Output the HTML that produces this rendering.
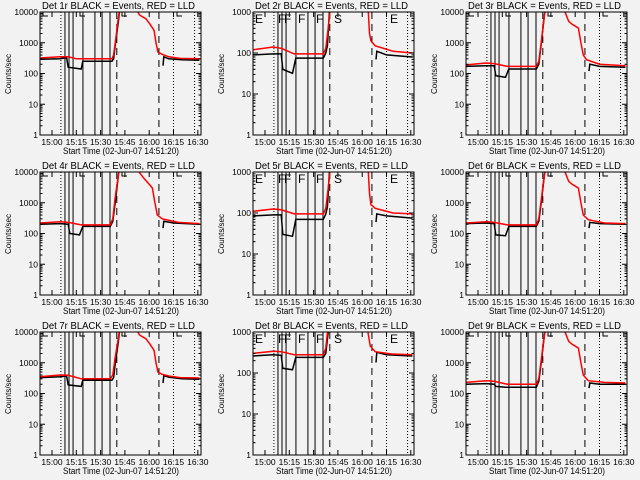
<!DOCTYPE html>
<html><head><meta charset="utf-8"><style>
html,body{margin:0;padding:0;background:#f2f2f2;}
svg{display:block;}
text{font-family:"Liberation Sans",sans-serif;fill:#000;}
</style></head><body>
<svg id="chart" width="640" height="480" viewBox="0 0 640 480" xmlns="http://www.w3.org/2000/svg">
<rect x="0" y="0" width="640" height="480" fill="#f2f2f2"/>
</svg>
<script>
// time in minutes after 15:00, values in counts/sec
const tickLabels = ["15:00","15:15","15:30","15:45","16:00","16:15","16:30"];
const tickMinutes = [0,15,30,45,60,75,90];
const solidLines = [8,10.5,13,19.1,26.5,30.9,35.8];
const dashedLines = [40,66];
const dottedLines = [5.5,75,88];
const panelTitles = ["Det 1r","Det 2r","Det 3r","Det 4r","Det 5r","Det 6r","Det 7r","Det 8r","Det 9r"];
const panelYMax = [10000,1000,10000,10000,1000,10000,10000,1000,10000];

const red1 = [[-7.4,320],[5,350],[10,350],[15,300],[37,300],[38,400],[39.5,1500],[40.7,5000],[42,15000],[52,15000],[53,10000],[54,8000],[58,6000],[60.5,4000],[63,2500],[64.2,1000],[65.4,500],[68,420],[72,350],[79,310],[91,300]];
const black1 = [[-7.4,290],[5,300],[9,330],[10,160],[18,140],[19,250],[37,250],[38,300],[39,800],[41,5000],[42,15000],[63,15000]];
const black1b = [[68.5,180],[69,350],[72,300],[80,280],[91,270]];

const red2 = [[-7.4,120],[5,140],[10,130],[18,95],[36,95],[37.5,130],[39,400],[40.5,1500],[63.5,1500],[64.5,300],[65.4,200],[68,150],[79,110],[91,100]];
const black2 = [[-7.4,90],[5,95],[10,95],[11,40],[17,32],[19,75],[36,75],[37.5,100],[38.5,150],[40,1500],[63,1500]];
const black2b = [[68.5,70],[69,110],[75,90],[91,80]];

const red3 = [[-7.4,190],[5,220],[10,210],[18,170],[36,170],[37.5,250],[39,1000],[41,8000],[42,15000],[52,15000],[53.7,10000],[56,5000],[58,4000],[62,3000],[63.5,1000],[65,400],[67,280],[75,200],[91,180]];
const black3 = [[-7.4,170],[5,180],[10,180],[11,85],[17,75],[19,140],[36,140],[37.5,200],[39,900],[41,8000],[42,15000],[63,15000]];
const black3b = [[68.5,120],[69,200],[75,170],[91,160]];

const red4 = [[-7.4,220],[5,240],[10,230],[18,190],[36,190],[37.5,300],[39,1500],[41,8000],[42,15000],[52,15000],[53.7,10000],[57,6000],[60,4000],[62,3000],[63.5,1000],[65,400],[68,300],[78,230],[91,210]];
const black4 = [[-7.4,200],[5,210],[10,200],[11,100],[17,90],[19,170],[36,170],[37.5,250],[39,1000],[41,8000],[42,15000],[63,15000]];
const black4b = [[68.5,150],[69,250],[75,220],[91,200]];

const red5 = [[-7.4,110],[5,125],[10,120],[18,95],[36,95],[37.5,130],[39,400],[40.5,1500],[63.5,1500],[64.5,300],[65.4,160],[68,130],[79,100],[91,95]];
const black5 = [[-7.4,85],[5,90],[10,90],[11,30],[17,27],[19,70],[36,70],[37.5,95],[38.5,140],[40,1500],[63,1500]];
const black5b = [[68.5,60],[69,95],[75,85],[91,75]];

const red6 = [[-7.4,220],[5,240],[10,230],[18,190],[36,190],[37.5,300],[39,1200],[41,8000],[42,15000],[52,15000],[53.7,10000],[56,5000],[58,4000],[62,3000],[63.5,1000],[65,400],[68,280],[78,220],[91,210]];
const black6 = [[-7.4,210],[5,220],[10,210],[11,90],[17,85],[19,170],[36,170],[37.5,250],[39,1000],[41,8000],[42,15000],[63,15000]];
const black6b = [[68.5,150],[69,230],[75,210],[91,200]];

const red7 = [[-7.4,350],[5,400],[10,390],[18,300],[36,300],[37.5,400],[39,1500],[40.7,5000],[42,15000],[52,15000],[53,10000],[54,8000],[58,6000],[60.5,4000],[63,2500],[64.2,1000],[65.4,500],[68,420],[72,370],[79,330],[91,320]];
const black7 = [[-7.4,330],[5,350],[9,370],[10,190],[18,170],[19,270],[37,270],[38,330],[39,900],[41,5000],[42,15000],[63,15000]];
const black7b = [[68.5,220],[69,380],[72,340],[80,300],[91,290]];

const red8 = [[-7.4,300],[5,340],[10,330],[18,280],[36,280],[37.5,400],[39,1500],[41,8000],[42,15000],[52,15000],[53.7,10000],[57,6000],[60,4000],[62,3000],[63.5,1000],[65,450],[68,330],[78,290],[91,280]];
const black8 = [[-7.4,260],[5,280],[10,270],[11,130],[17,120],[19,240],[36,240],[37.5,300],[39,1000],[41,8000],[42,15000],[63,15000]];
const black8b = [[68.5,180],[69,320],[75,280],[91,260]];

const red9 = [[-7.4,230],[5,260],[10,250],[18,200],[36,200],[37.5,300],[39,1200],[41,8000],[42,15000],[52,15000],[53.7,10000],[56,5000],[58,4000],[62,3000],[63.5,1000],[65,400],[68,260],[78,230],[91,220]];
const black9 = [[-7.4,200],[5,210],[10,200],[11,170],[17,160],[19,160],[36,160],[37.5,250],[39,1000],[41,8000],[42,15000],[63,15000]];
const black9b = [[68.5,150],[69,220],[75,200],[91,200]];

const redSeries = [red1,red2,red3,red4,red5,red6,red7,red8,red9];
const blackSeries = [black1,black2,black3,black4,black5,black6,black7,black8,black9];
const blackAfter = [black1b,black2b,black3b,black4b,black5b,black6b,black7b,black8b,black9b];

const NS = "http://www.w3.org/2000/svg";
const svg = document.getElementById("chart");
function mk(tag, attrs, parent){
  const e = document.createElementNS(NS, tag);
  for (const k in attrs) e.setAttribute(k, attrs[k]);
  parent.appendChild(e);
  return e;
}
const PL=40, PR=201, PT=12, PB=135;

for (let p=0; p<9; p++){
  const ox = (p%3)*213, oy = Math.floor(p/3)*160;
  const g = mk("g", {transform:"translate("+ox+","+oy+")"}, svg);
  
  
  const ymax = panelYMax[p];
  const dec = Math.log10(ymax);
  const xS = t => 52 + t*24.3/15;
  const yS = v => PB - (Math.log10(Math.max(v,1))/dec)*(PB-PT);
  const cid = "clip"+p;
  const cp = mk("clipPath", {id:cid}, g);
  mk("rect", {x:PL, y:PT, width:PR-PL, height:PB-PT}, cp);

  solidLines.forEach(t=>{
    const l = mk("line", {x1:xS(t), x2:xS(t), y1:PT, y2:PB, stroke:"#000", "stroke-width":1}, g);
    
    
  });
  dashedLines.forEach(t=>{
    const l = mk("line", {x1:xS(t), x2:xS(t), y1:PT, y2:PB, stroke:"#000", "stroke-width":1, "stroke-dasharray":"7,5"}, g);
    
    
  });
  dottedLines.forEach(t=>{
    const l = mk("line", {x1:xS(t), x2:xS(t), y1:PT, y2:PB, stroke:"#000", "stroke-width":1, "stroke-dasharray":"1,2"}, g);
    
    
  });

  function draw(arr, color, name){
    let d = "";
    arr.forEach((pt,i)=>{ d += (i?"L":"M") + xS(pt[0]).toFixed(1) + "," + yS(pt[1]).toFixed(1); });
    const path = mk("path", {d:d, fill:"none", stroke:color, "stroke-width":1.5, "clip-path":"url(#"+cid+")"}, g);
    
    
  }
  draw(blackSeries[p], "#000", "events-series");
  draw(blackAfter[p], "#000", "events-series-after");
  draw(redSeries[p], "#f00", "lld-series");

  if (ymax === 1000){
    const letters = [["E",42],["F",65],["F",71],["F",85],["F",103],["S",121],["E",177]];
    letters.forEach(L=>{
      const t = mk("text", {x:L[1], y:PT+11, "font-size":12}, g);
      t.textContent = L[0];
      
      
    });
  } else {
    [[43,17],[80,12],[122,12],[177,17]].forEach(m=>{
      const pth = mk("path", {d:"M"+m[0]+","+PT+" L"+m[0]+","+(PT+4)+" L"+(m[0]+5)+","+(PT+4), fill:"none", stroke:"#000", "stroke-width":1}, g);
      
      
    });
  }

  const fr = mk("rect", {x:PL, y:PT, width:PR-PL, height:PB-PT, fill:"none", stroke:"#000", "stroke-width":1}, g);
  
  

  for (let k=0; k<=dec; k++){
    const v = Math.pow(10,k), y = yS(v);
    mk("line", {x1:PL, x2:PL+5, y1:y, y2:y, stroke:"#000"}, g);
    mk("line", {x1:PR-5, x2:PR, y1:y, y2:y, stroke:"#000"}, g);
    const t = mk("text", {x:PL-2, y:y+3, "font-size":8.5, "text-anchor":"end"}, g);
    t.textContent = String(v);
    
    
    if (k<dec){
      for (let m=2; m<10; m++){
        const ym = yS(v*m);
        mk("line", {x1:PL, x2:PL+2.5, y1:ym, y2:ym, stroke:"#000"}, g);
        mk("line", {x1:PR-2.5, x2:PR, y1:ym, y2:ym, stroke:"#000"}, g);
      }
    }
  }
  tickMinutes.forEach((tm,i)=>{
    const x = xS(tm);
    mk("line", {x1:x, x2:x, y1:PB, y2:PB-5, stroke:"#000"}, g);
    mk("line", {x1:x, x2:x, y1:PT, y2:PT+5, stroke:"#000"}, g);
    const t = mk("text", {x:x, y:PB+10, "font-size":8.5, "text-anchor":"middle"}, g);
    t.textContent = tickLabels[i];
    
    
  });
  const xt = mk("text", {x:63, y:PB+19, "font-size":9, textLength:116, lengthAdjust:"spacingAndGlyphs"}, g);
  xt.textContent = "Start Time (02-Jun-07 14:51:20)";
  
  
  const yt = mk("text", {x:0, y:0, "font-size":8, "text-anchor":"middle", transform:"translate(11,74) rotate(-90)"}, g);
  yt.textContent = "Counts/sec";
  
  
  const tt = mk("text", {x:42, y:9, "font-size":10, textLength:153, lengthAdjust:"spacingAndGlyphs"}, g);
  tt.textContent = panelTitles[p] + " BLACK = Events, RED = LLD";
  
  
}
</script>
</body></html>
